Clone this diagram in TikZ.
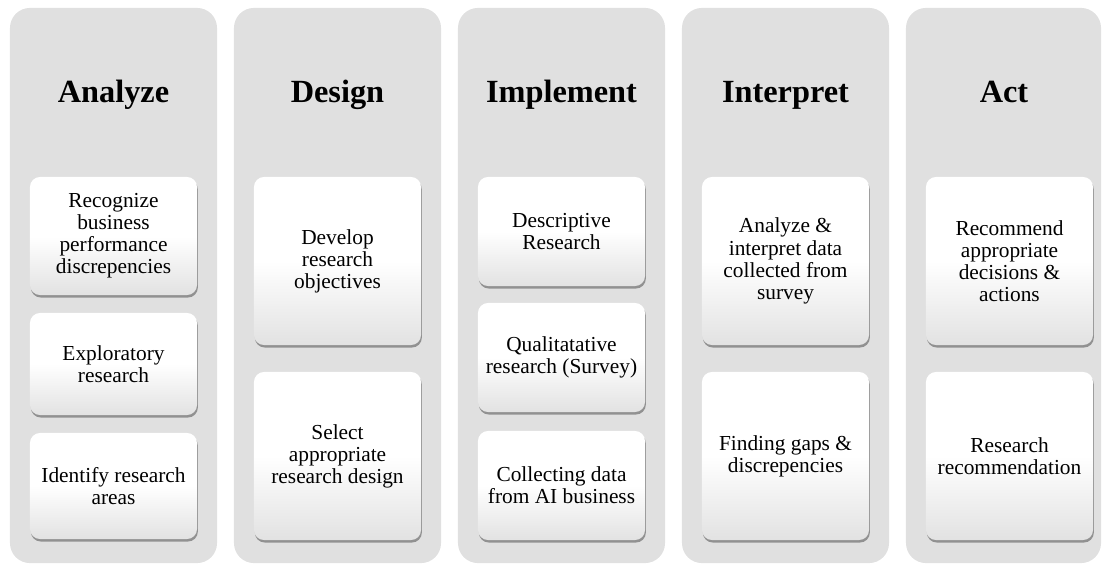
\documentclass[tikz,border=0pt]{standalone}
\usepackage{fontspec}
\setmainfont{Liberation Serif}
\usetikzlibrary{shadows}
\definecolor{colgray}{RGB}{224,224,224}
\definecolor{boxgray}{RGB}{226,226,226}

\tikzset{
  phase/.style={fill=colgray, rounded corners=0.5cm, inner sep=0pt, minimum width=5.175cm, minimum height=13.875cm},
  phasetitle/.style={anchor=base, font=\fontsize{23}{28}\selectfont\bfseries},
  stepbox/.style={rounded corners=0.25cm, top color=white, bottom color=boxgray, middle color=white,
    minimum width=4.175cm, inner sep=0pt, align=center, font=\fontsize{15.2}{15.7}\selectfont,
    drop shadow={shadow xshift=0.6pt, shadow yshift=-1.8pt, fill=black, opacity=0.35}}
}

\begin{document}
\begin{tikzpicture}[x=0.025cm, y=-0.025cm]
  \useasboundingbox (0,0) rectangle (1102,565);
  % columns
  \node[phase] (colA) at (113.5,285.5) {};
  \node[phase] (colB) at (337.5,285.5) {};
  \node[phase] (colC) at (561.5,285.5) {};
  \node[phase] (colD) at (785.5,285.5) {};
  \node[phase, minimum width=4.875cm] (colE) at (1003.5,285.5) {};
  % titles
  \node[phasetitle] (tA) at (113.5,102) {Analyze};
  \node[phasetitle] (tB) at (337.5,102) {Design};
  \node[phasetitle] (tC) at (561.5,102) {Implement};
  \node[phasetitle] (tD) at (785.5,102) {Interpret};
  \node[phasetitle] (tE) at (1004,102) {Act};
  % Analyze
  \node[stepbox, minimum height=2.95cm] (a1) at (113.5,236) {Recognize\\business\\performance\\discrepencies};
  \node[stepbox, minimum height=2.55cm] (a2) at (113.5,364) {Exploratory\\research};
  \node[stepbox, minimum height=2.65cm] (a3) at (113.5,486) {Identify research\\areas};
  % Design
  \node[stepbox, minimum height=4.2cm] (b1) at (337.5,261) {Develop\\research\\objectives};
  \node[stepbox, minimum height=4.2cm] (b2) at (337.5,456) {Select\\appropriate\\research design};
  % Implement
  \node[stepbox, minimum height=2.725cm] (c1) at (561.5,231.5) {Descriptive\\Research};
  \node[stepbox, minimum height=2.725cm] (c2) at (561.5,357.5) {Qualitatative\\research (Survey)};
  \node[stepbox, minimum height=2.725cm] (c3) at (561.5,485.5) {Collecting data\\from AI business};
  % Interpret
  \node[stepbox, minimum height=4.2cm] (d1) at (785.5,261) {Analyze \&\\interpret data\\collected from\\survey};
  \node[stepbox, minimum height=4.2cm] (d2) at (785.5,456) {Finding gaps \&\\discrepencies};
  % Act
  \node[stepbox, minimum height=4.2cm] (e1) at (1009.5,261) {Recommend\\appropriate\\decisions \&\\actions};
  \node[stepbox, minimum height=4.2cm] (e2) at (1009.5,456) {Research\\recommendation};
\end{tikzpicture}
\end{document}
